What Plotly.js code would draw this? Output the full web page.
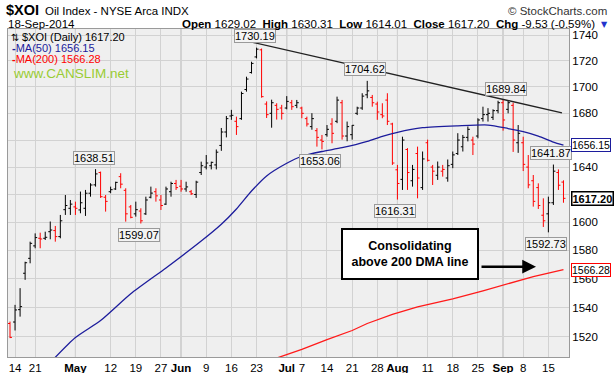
<!DOCTYPE html>
<html><head><meta charset="utf-8">
<script src="https://cdn.plot.ly/plotly-3.0.1.min.js"></script>
<style>html,body{margin:0;padding:0;background:#fff;}#chart{width:614px;height:373px;}</style>
</head><body><div id="chart"></div>
<script>
const dates = ['2014-04-11','2014-04-14','2014-04-15','2014-04-16','2014-04-17','2014-04-21','2014-04-22','2014-04-23','2014-04-24','2014-04-25','2014-04-28','2014-04-29','2014-04-30',
'2014-05-01','2014-05-02','2014-05-05','2014-05-06','2014-05-07','2014-05-08','2014-05-09','2014-05-12','2014-05-13','2014-05-14','2014-05-15','2014-05-16','2014-05-19','2014-05-20','2014-05-21','2014-05-22','2014-05-23','2014-05-27','2014-05-28','2014-05-29','2014-05-30',
'2014-06-02','2014-06-03','2014-06-04','2014-06-05','2014-06-06','2014-06-09','2014-06-10','2014-06-11','2014-06-12','2014-06-13','2014-06-16','2014-06-17','2014-06-18','2014-06-19','2014-06-20','2014-06-23','2014-06-24','2014-06-25','2014-06-26','2014-06-27','2014-06-30',
'2014-07-01','2014-07-02','2014-07-03','2014-07-07','2014-07-08','2014-07-09','2014-07-10','2014-07-11','2014-07-14','2014-07-15','2014-07-16','2014-07-17','2014-07-18','2014-07-21','2014-07-22','2014-07-23','2014-07-24','2014-07-25','2014-07-28','2014-07-29','2014-07-30','2014-07-31',
'2014-08-01','2014-08-04','2014-08-05','2014-08-06','2014-08-07','2014-08-08','2014-08-11','2014-08-12','2014-08-13','2014-08-14','2014-08-15','2014-08-18','2014-08-19','2014-08-20','2014-08-21','2014-08-22','2014-08-25','2014-08-26','2014-08-27','2014-08-28','2014-08-29',
'2014-09-02','2014-09-03','2014-09-04','2014-09-05','2014-09-08','2014-09-09','2014-09-10','2014-09-11','2014-09-12','2014-09-15','2014-09-16','2014-09-17','2014-09-18'];
const open = [1529,1530,1538.5,1563.8,1574.3,1583.1,1588.5,1588.5,1593.2,1594,1589.7,1609,1610,
1611,1608.8,1610,1620.9,1627,1636,1618,1622,1624,1633,1623,1611,1606,1608,1606,1618,1622,1616,1613,1622,1628,
1626,1624,1622,1620,1636,1640,1641,1641.6,1656,1666,1678,1674,1676,1698,1711,1723,1728.5,1687,1680,1686,1684,
1684,1688,1686,1684,1676,1670,1667,1660,1664,1672,1674,1688,1663,1664,1680,1684,1694,1692,1687,1679,1690,1672,
1638,1631,1653,1630,1650,1625,1658,1640,1634,1637,1632,1642,1650,1655,1662,1660,1663,1676,1679,1677,1682,
1688,1683,1686,1658,1658,1640,1630,1625,1605,1606,1614,1636,1629.02];
const high = [1530.3,1541.8,1553.4,1571.9,1586.1,1592,1592.5,1593.2,1600.5,1597.3,1605.2,1619.6,1616,
1614.8,1622.1,1623.3,1628.2,1638.51,1636.7,1619.6,1625.7,1629.3,1635.5,1624.5,1612.4,1614.8,1610,1618.4,1625.7,1624.5,1619.6,1625.7,1629.3,1630.6,
1630.6,1629.3,1623.3,1630,1644,1648.9,1644,1653,1669,1678,1682.6,1677.5,1696.4,1707.8,1719.3,1730.19,1729.5,1689,1690.3,1687.6,1686.4,
1693,1690.1,1690.1,1685,1677.5,1680.1,1668.9,1663.8,1671.2,1676.3,1692.6,1690.1,1673.8,1671.2,1685,1695.2,1704.62,1693.9,1688.8,1687.6,1695.2,1672.9,
1641.6,1662.5,1654,1641.6,1655.1,1651.5,1660.3,1641.6,1644.1,1641.6,1645.6,1651.5,1665.1,1663.8,1670.1,1662.5,1676.3,1685,1683.9,1683,1689.5,
1690.1,1689.84,1688,1671.2,1662.5,1648.9,1634.2,1628.1,1617.2,1618.4,1641.87,1638.3,1630.31];
const low = [1519,1524.2,1533.7,1559.2,1570.8,1581.4,1581.4,1587.3,1587.8,1586.1,1588.5,1605.2,1605.2,
1605.2,1606.4,1604.5,1618.4,1625.7,1617.5,1607.6,1620.9,1623.3,1624.5,1600.4,1602.8,1604,1599.07,1605.2,1617.2,1614.8,1608.8,1612.4,1618.4,1623.3,
1622,1622,1619.6,1617.5,1634.2,1638.3,1638.3,1638.3,1652,1662,1675.1,1663.8,1675.1,1696.4,1710.2,1721.9,1691.8,1676.5,1669.2,1675.3,1675.3,
1683,1682.6,1683.9,1676.3,1670.1,1667.7,1655.1,1653.06,1662.5,1657.6,1672.6,1660.3,1659.1,1660.3,1678.7,1682.6,1691.4,1685,1675.1,1676.3,1671.2,1641.6,
1616.31,1623.3,1623.3,1625.7,1617.2,1623.3,1644.1,1626.9,1630.6,1633,1629.3,1639.2,1648.9,1651.5,1659,1648.9,1661.3,1673.8,1673.8,1675,1680,
1667,1680,1651.2,1650.5,1637.1,1624.5,1611.2,1609.5,1596.6,1592.73,1612.4,1623.3,1614.01];
const close = [1519.5,1538.3,1540.6,1571.2,1584.9,1589,1588,1589.2,1594.4,1589.7,1601,1612,1613,
1610,1614,1620.9,1626.9,1635,1618.4,1615,1623.5,1628.8,1627.5,1606,1603.5,1609,1601,1616,1621,1619,1612,1624,1628,1625,
1624,1625.5,1620.5,1629,1641,1643,1643.5,1651,1666,1676,1678.5,1670,1695,1706,1718,1729,1692.6,1679,1688,1683,1680,
1689,1685,1688,1680,1672,1676,1662,1659,1668,1665,1690,1663,1670,1671,1684,1693,1697,1688,1681,1678,1674,1643,
1628,1660,1636,1638.3,1632,1646,1645,1637,1640,1638.3,1641,1649,1660,1662,1668,1657,1675,1679,1680,1682,1688,
1675,1688,1660,1665,1642,1627,1615,1612,1601,1614,1637,1626.73,1617.20];

const ma50Dates = ['2014-04-24','2014-05-01','2014-05-08','2014-05-16','2014-05-28','2014-06-06','2014-06-12','2014-06-17','2014-06-20','2014-06-25','2014-07-01','2014-07-07','2014-07-11','2014-07-17','2014-07-24','2014-07-29','2014-08-01','2014-08-08','2014-08-19','2014-08-27','2014-09-03','2014-09-08','2014-09-11','2014-09-16','2014-09-18'];
const ma50 = [1502.5,1519.4,1531.0,1549.5,1567.5,1586.5,1598.5,1609.5,1622.5,1633.5,1642.8,1648.0,1651.5,1654.3,1659.0,1662.8,1665.8,1669.2,1670.6,1671.2,1668.6,1666.3,1663.0,1658.5,1656.15];
const ma200Dates = ['2014-06-27','2014-06-30','2014-07-07','2014-07-14','2014-07-21','2014-07-24','2014-07-31','2014-08-07','2014-08-18','2014-08-26','2014-09-03','2014-09-10','2014-09-18'];
const ma200 = [1505.5,1506.6,1511.3,1518.0,1524.2,1529.0,1535.2,1540.5,1546.0,1551.5,1556.5,1561.5,1566.28];

const tickDates = ['2014-04-14','2014-04-21','2014-05-01','2014-05-12','2014-05-19','2014-05-27','2014-06-02','2014-06-09','2014-06-16','2014-06-23','2014-07-01','2014-07-07','2014-07-14','2014-07-21','2014-07-28','2014-08-01','2014-08-11','2014-08-18','2014-08-25','2014-09-02','2014-09-08','2014-09-15'];
const tickLabels = ['14','21','<b>May</b>','12','19','27','<b>Jun</b>','9','16','23','<b>Jul</b>','7','14','21','28','<b>Aug</b>','11','18','25','<b>Sep</b>','8','15'];
const monthDates = ['2014-05-01','2014-06-02','2014-07-01','2014-08-01','2014-09-02'];
const priceTicks = [1520,1540,1560,1580,1600,1620,1640,1660,1680,1700,1720,1740];
const hiddenTickLabels = [1620,1660];   // covered by value tags in the original

const markDates = ['2014-05-07','2014-06-23','2014-07-24','2014-09-03','2014-09-16','2014-05-20','2014-07-11','2014-08-01','2014-09-15'];
const markValues = [1638.51,1730.19,1704.62,1689.84,1641.87,1599.07,1653.06,1616.31,1592.73];
const markSide = ['high','high','high','high','high','low','low','low','low'];

const trendDates = [44.7, 109.7];   // trading-day positions of trendline ends
const trendValues = [1737.4, 1680.4];

const lastClose = 1617.20, ma50Last = 1656.15, ma200Last = 1566.28;
const yMin = 1506.2, yMax = 1744.7;

const pos = d => dates.indexOf(d);
const upIdx = [], dnIdx = [];
close.forEach((c, i) => { const prev = i > 0 ? close[i-1] : open[i]; (c >= prev ? upIdx : dnIdx).push(i); });
const sub = (a, ids) => ids.map(i => a[i]);
function ohlcTrace(ids, color) {
  return {type:'ohlc', x: ids, open: sub(open,ids), high: sub(high,ids), low: sub(low,ids), close: sub(close,ids),
    increasing:{line:{color:color,width:1}}, decreasing:{line:{color:color,width:1}}, tickwidth:0.4, hoverinfo:'skip', showlegend:false};
}
const F = 'Liberation Sans, Arial, sans-serif';
const traces = [
  {type:'scatter', mode:'lines', x: ma200Dates.map(pos), y: ma200, line:{color:'#ff1a1a', width:1.3}, hoverinfo:'skip'},
  {type:'scatter', mode:'lines', x: ma50Dates.map(pos), y: ma50, line:{color:'#1c1c9c', width:1.3, shape:'spline', smoothing:0.6}, hoverinfo:'skip'},
  {type:'scatter', mode:'lines', x: trendDates, y: trendValues, line:{color:'#222', width:1.3}, hoverinfo:'skip'},
  ohlcTrace(upIdx, '#000000'),
  ohlcTrace(dnIdx, '#ff0000')
];

const L = 8, R = 569, T = 29, B = 357;
const px = x => (x - L) / (R - L);
const py = y => (B - y) / (B - T);

const annotations = [];
markValues.forEach((v, k) => {
  annotations.push({xref:'x', yref:'y', x: pos(markDates[k]) - 0.4, y: Math.log10(v), text: v.toFixed(2), showarrow:false,
    yshift: markSide[k] === 'high' ? 11.5 : -11.5, font:{family:F, size:11, color:'#000'},
    bgcolor:'#f3f3f3', bordercolor:'#9a9a9a', borderwidth:1, borderpad:0});
});
// right-side value tags
[[ma50Last,'#1c1c9c',false],[lastClose,'#000',true],[ma200Last,'#ff0000',false]].forEach(t => {
  annotations.push({xref:'paper', yref:'y', x:1, xanchor:'left', xshift:2, y: Math.log10(t[0]),
    text: t[2] ? '<b>'+t[0].toFixed(2)+'</b>' : t[0].toFixed(2), showarrow:false,
    font:{family:F, size: t[2]?11:10.5, color:'#000'}, bgcolor:'#fff', bordercolor:t[1], borderwidth: t[2]?1.5:1, borderpad:0});
});
// legend text
annotations.push({xref:'paper', yref:'paper', x:px(9), y:py(37), xanchor:'left', yanchor:'middle', showarrow:false,
  text:'⇅', font:{family:'DejaVu Sans', size:10, color:'#000'}});
annotations.push({xref:'paper', yref:'paper', x:px(20), y:py(37), xanchor:'left', yanchor:'middle', showarrow:false,
  text:'$XOI (Daily) '+lastClose.toFixed(2), font:{family:F, size:11, color:'#000'}});
annotations.push({xref:'paper', yref:'paper', x:px(10), y:py(48), xanchor:'left', yanchor:'middle', showarrow:false,
  text:'<b>-</b>MA(50) '+ma50Last.toFixed(2), font:{family:F, size:11, color:'#1c1c9c'}});
annotations.push({xref:'paper', yref:'paper', x:px(10), y:py(58.5), xanchor:'left', yanchor:'middle', showarrow:false,
  text:'<b>-</b>MA(200) '+ma200Last.toFixed(2), font:{family:F, size:11, color:'#ff0000'}});
annotations.push({xref:'paper', yref:'paper', x:px(11), y:py(73.5), xanchor:'left', yanchor:'middle', showarrow:false,
  text:'www.CANSLIM.net', font:{family:F, size:13.5, color:'#99cc33'}});
// callout
annotations.push({xref:'paper', yref:'paper', x:px(410), y:py(254), xanchor:'center', yanchor:'middle', showarrow:false,
  text:'<b>Consolidating<br>above 200 DMA line</b>', align:'center', width:132, height:46,
  font:{family:F, size:12.5, color:'#000'},
  bgcolor:'#fff', bordercolor:'#000', borderwidth:2});
annotations.push({xref:'paper', yref:'paper', x:px(536), y:py(266.7), axref:'pixel', ayref:'pixel', ax:-56, ay:0,
  showarrow:true, arrowhead:2, arrowsize:1.1, arrowwidth:2.5, arrowcolor:'#000', text:''});
// header
annotations.push({xref:'paper', yref:'paper', x:px(4), y:py(10), xanchor:'left', yanchor:'middle', showarrow:false,
  text:'<b>$XOI</b>', font:{family:F, size:14.5, color:'#000'}});
annotations.push({xref:'paper', yref:'paper', x:px(43), y:py(10.5), xanchor:'left', yanchor:'middle', showarrow:false,
  text:'Oil Index - NYSE Arca INDX', font:{family:F, size:11.5, color:'#000'}});
annotations.push({xref:'paper', yref:'paper', x:px(609), y:py(10.5), xanchor:'right', yanchor:'middle', showarrow:false,
  text:'© StockCharts.com', font:{family:F, size:11.5, color:'#333'}});
annotations.push({xref:'paper', yref:'paper', x:px(6), y:py(24), xanchor:'left', yanchor:'middle', showarrow:false,
  text:'18-Sep-2014', font:{family:F, size:11.5, color:'#000'}});
annotations.push({xref:'paper', yref:'paper', x:px(597), y:py(24), xanchor:'right', yanchor:'middle', showarrow:false,
  text:'<b>Open</b> 1629.02  <b>High</b> 1630.31  <b>Low</b> 1614.01  <b>Close</b> 1617.20  <b>Chg</b> -9.53 (-0.59%)',
  font:{family:F, size:11.5, color:'#000'}});
annotations.push({xref:'paper', yref:'paper', x:px(604), y:py(24.5), xanchor:'center', yanchor:'middle', showarrow:false,
  text:'▼', font:{family:'DejaVu Sans', size:8, color:'#2233cc'}});

const shapes = monthDates.map(d => ({type:'line', xref:'x', yref:'paper', x0:pos(d), x1:pos(d), y0:0, y1:1,
  line:{color:'#a9a9a9', width:1}, layer:'between'}));

const layout = {
  width:614, height:373, margin:{l:L, r:614-R, t:T, b:373-B, pad:0},
  paper_bgcolor:'#ffffff', plot_bgcolor:'#efefef', showlegend:false,
  xaxis:{type:'linear', range:[-0.4,111.1], tickmode:'array', tickvals: tickDates.map(pos), ticktext: tickLabels,
    showgrid:true, gridcolor:'#d2d2d2', gridwidth:1, zeroline:false, showline:true, linecolor:'#9a9a9a', mirror:true,
    ticks:'', tickfont:{family:F, size:11.5, color:'#000'}, rangeslider:{visible:false}, fixedrange:true},
  yaxis:{type:'log', side:'right', range:[Math.log10(yMin), Math.log10(yMax)], tickmode:'array', tickvals: priceTicks,
    ticktext: priceTicks.map(v => hiddenTickLabels.includes(v) ? '' : String(v)), showgrid:true, gridcolor:'#d2d2d2', gridwidth:1, zeroline:false, showline:true,
    linecolor:'#9a9a9a', mirror:true, ticks:'', tickfont:{family:F, size:11.5, color:'#000'}, fixedrange:true},
  shapes: shapes, annotations: annotations
};
Plotly.newPlot('chart', traces, layout, {staticPlot:true, displayModeBar:false});
</script></body></html>
